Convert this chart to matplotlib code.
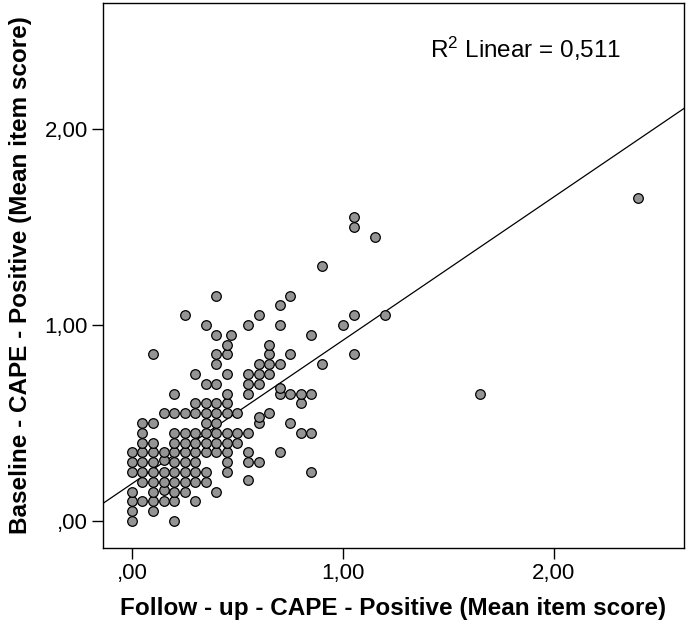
import matplotlib
matplotlib.use('Agg')
import matplotlib.pyplot as plt
import numpy as np

plt.rcParams['font.family'] = ['Liberation Sans', 'DejaVu Sans']
plt.rcParams['mathtext.fontset'] = 'custom'
plt.rcParams['mathtext.rm'] = 'Liberation Sans'
plt.rcParams['mathtext.it'] = 'Liberation Sans'

# follow-up (x) and baseline (y) mean item scores, read row by row
rows = {
    0.00: [0, 0.2],
    0.05: [0, 0.1],
    0.10: [0, 0.05, 0.1, 0.15, 0.2, 0.3],
    0.15: [0, 0.1, 0.2, 0.25, 0.4],
    0.16: [0.15],
    0.20: [0.05, 0.1, 0.15, 0.2, 0.25, 0.3, 0.35],
    0.21: [0.55],
    0.25: [0, 0.05, 0.1, 0.15, 0.2, 0.25, 0.3, 0.35, 0.45, 0.85],
    0.30: [0, 0.05, 0.1, 0.2, 0.25, 0.3, 0.45, 0.55, 0.6],
    0.31: [0.15],
    0.35: [0, 0.05, 0.1, 0.15, 0.2, 0.25, 0.3, 0.35, 0.4, 0.45, 0.55, 0.7],
    0.40: [0.05, 0.1, 0.2, 0.25, 0.3, 0.35, 0.4, 0.45, 0.5],
    0.45: [0.05, 0.2, 0.25, 0.3, 0.35, 0.4, 0.45, 0.5, 0.55, 0.8, 0.85],
    0.50: [0.05, 0.1, 0.35, 0.4, 0.6, 0.75],
    0.53: [0.6],
    0.55: [0.15, 0.2, 0.25, 0.3, 0.35, 0.4, 0.45, 0.5, 0.65],
    0.60: [0.3, 0.35, 0.4, 0.45, 0.8],
    0.65: [0.2, 0.45, 0.55, 0.7, 0.75, 0.8, 0.85, 1.65],
    0.68: [0.7],
    0.70: [0.35, 0.4, 0.55, 0.6],
    0.75: [0.3, 0.45, 0.55, 0.6, 0.65],
    0.80: [0.4, 0.6, 0.65, 0.7, 0.9],
    0.85: [0.1, 0.4, 0.45, 0.65, 0.75, 1.05],
    0.90: [0.45, 0.65],
    0.95: [0.4, 0.47, 0.85],
    1.00: [0.35, 0.55, 0.7, 1.0],
    1.05: [0.25, 0.6, 1.05, 1.2],
    1.10: [0.7],
    1.15: [0.4, 0.75],
    1.30: [0.9],
    1.45: [1.15],
    1.50: [1.05],
    1.55: [1.05],
    1.65: [2.4],
}

fit_intercept = 0.19
fit_slope = 0.732
r2_text = 'R$^{2}$ Linear = 0,511'

xticks = [0, 1, 2]
xticklabels = [',00', '1,00', '2,00']
yticks = [0, 1, 2]
yticklabels = [',00', '1,00', '2,00']

x = []
y = []
for yv, xs in rows.items():
    for xv in xs:
        x.append(xv)
        y.append(yv)
x = np.array(x)
y = np.array(y)

fig = plt.figure(figsize=(6.91, 6.27), dpi=100)
ax = fig.add_axes([103/691, 79/627, 581/691, 545/627])

xmin, xmax = -0.137, 2.616
ax.set_xlim(xmin, xmax)
ax.set_ylim(-0.138, 2.643)

xl = np.array([xmin, xmax])
ax.plot(xl, fit_intercept + fit_slope*xl, color='black', lw=0.9, zorder=2)
ax.scatter(x, y, s=48, facecolor='#949494', edgecolor='black', linewidth=0.9, zorder=3)

ax.set_xticks(xticks)
ax.set_xticklabels(xticklabels)
ax.set_yticks(yticks)
ax.set_yticklabels(yticklabels)
ax.tick_params(direction='out', length=8, width=1, labelsize=16, pad=3)

for s in ax.spines.values():
    s.set_linewidth(1)
    s.set_color('black')

ax.set_xlabel('Follow - up - CAPE - Positive (Mean item score)', fontsize=17.5, fontweight='bold', labelpad=9)
ax.set_ylabel('Baseline - CAPE - Positive (Mean item score)', fontsize=17.5, fontweight='bold', labelpad=9)

ax.text(0.563, 0.915, r2_text, transform=ax.transAxes, fontsize=17.5, ha='left', va='center')

fig.savefig('out.png', dpi=100)
